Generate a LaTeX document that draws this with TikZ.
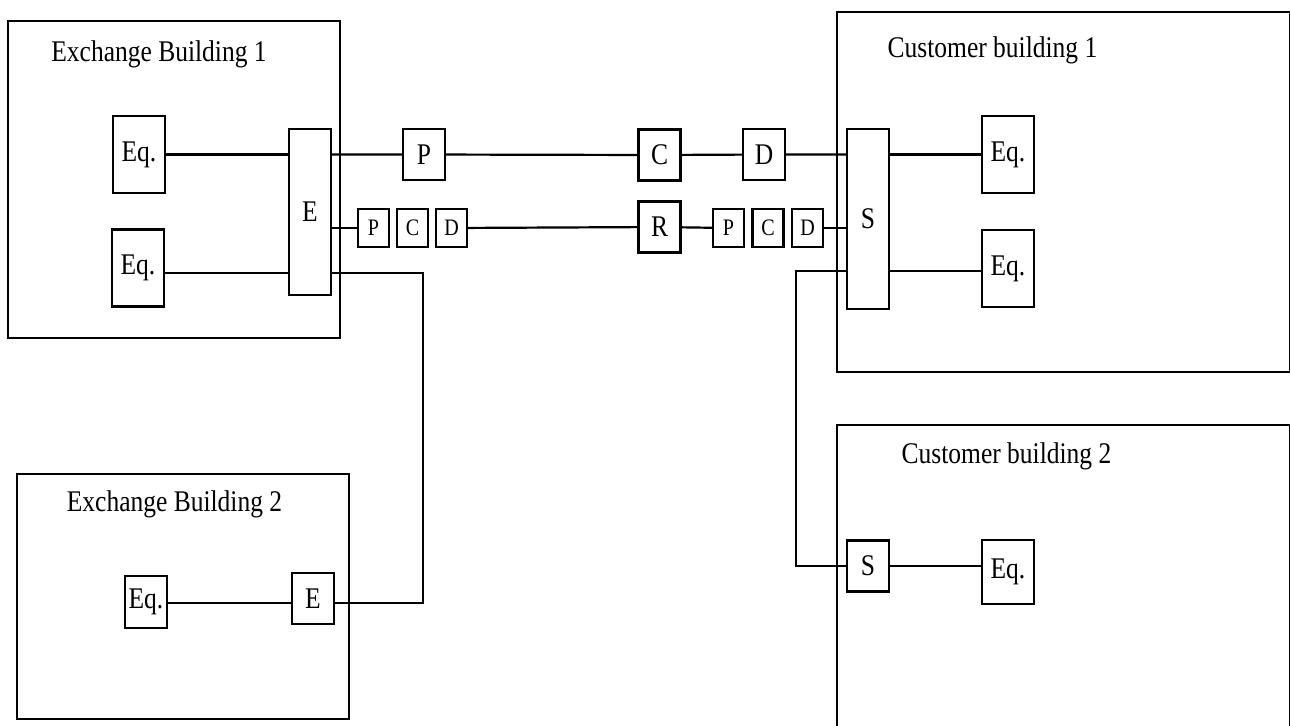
\documentclass[tikz,border=0pt]{standalone}
\usepackage{fontspec}
\setmainfont{Liberation Serif}[FakeStretch=0.85]
\usepackage{tikz}
\usetikzlibrary{calc,positioning}

\begin{document}
\begin{tikzpicture}[x=0.5pt, y=-0.5pt, line width=1.1pt,
	box/.style={rectangle, draw, inner sep=0pt, font=\fontsize{15}{18}\selectfont},
	eqbox/.style={box, minimum width=26pt, minimum height=38.5pt},
	unit/.style={box, minimum width=21pt, minimum height=25.5pt},
	tiny/.style={box, minimum width=15.5pt, minimum height=19pt, font=\fontsize{11.8}{14}\selectfont},
	title/.style={anchor=base, font=\fontsize{15}{18}\selectfont}]
	\clip (0,0) rectangle (1290,725);

	\draw (8,21) rectangle (340,338);
	\node (t1) [title] at (159,61) {Exchange Building 1};
	\draw (17,474) rectangle (349,719);
	\node (t2) [title] at (174.5,511) {Exchange Building 2};
	\draw (837,12) rectangle (1290,372);
	\node (t3) [title] at (992.5,57) {Customer building 1};
	\draw (837,425) rectangle (1290,760);
	\node (t4) [title] at (1006.5,463) {Customer building 2};

	\node (eqa) [eqbox] at (139,154.5) {Eq.};
	\node (eqb) [eqbox] at (138,268) {Eq.};
	\node (e1) [box, minimum width=21pt, minimum height=83pt] at (310,212) {E};
	\node (p1) [unit] at (424,154.5) {P};
	\node (c1) [unit] at (659.5,155) {C};
	\node (d1) [unit] at (764,154.5) {D};
	\node (s1) [box, minimum width=21pt, minimum height=90pt] at (868,219) {S};
	\node (eqc) [eqbox] at (1008,154.5) {Eq.};
	\node (eqd) [eqbox] at (1008,268.5) {Eq.};

	\node (p2) [tiny] at (373.5,228) {P};
	\node (c2) [tiny] at (412.5,228) {C};
	\node (d2) [tiny] at (451.5,228) {D};
	\node (r) [unit] at (659.5,227) {R};
	\node (p3) [tiny] at (728.5,228) {P};
	\node (c3) [tiny] at (768,228) {C};
	\node (d3) [tiny] at (807.5,228) {D};

	\node (eqe) [box, minimum width=21pt, minimum height=26pt] at (146,602) {Eq.};
	\node (e2) [unit] at (313,598.5) {E};
	\node (s2) [unit] at (868,566) {S};
	\node (eqf) [eqbox, minimum height=32pt] at (1008,572) {Eq.};

	\coordinate (k1) at (423,273);
	\coordinate (k2) at (423,603);
	\coordinate (k3) at (796,271);
	\coordinate (k4) at (796,566);

	\draw (eqa) -- (eqa -| e1.west);
	\draw (eqb.east |- k1) -- (e1.west |- k1);
	\draw (e1.east |- p1) -- (p1) -- (c1) -- (d1) -- (d1 -| s1.west);
	\draw (s1.east |- eqc) -- (eqc);
	\draw (s1.east |- k3) -- (eqd.west |- k3);
	\draw (e1.east |- p2) -- (p2);
	\draw (d2) -- (r) -- (p3);
	\draw (d3) -- (d3 -| s1.west);
	\draw (e1.east |- k1) -- (k1) -- (k2) -- (e2.east |- k2);
	\draw (eqe.east |- k2) -- (e2.west |- k2);
	\draw (s1.west |- k3) -- (k3) -- (k4) -- (s2.west);
	\draw (s2) -- (eqf.west |- s2);
\end{tikzpicture}
\end{document}
